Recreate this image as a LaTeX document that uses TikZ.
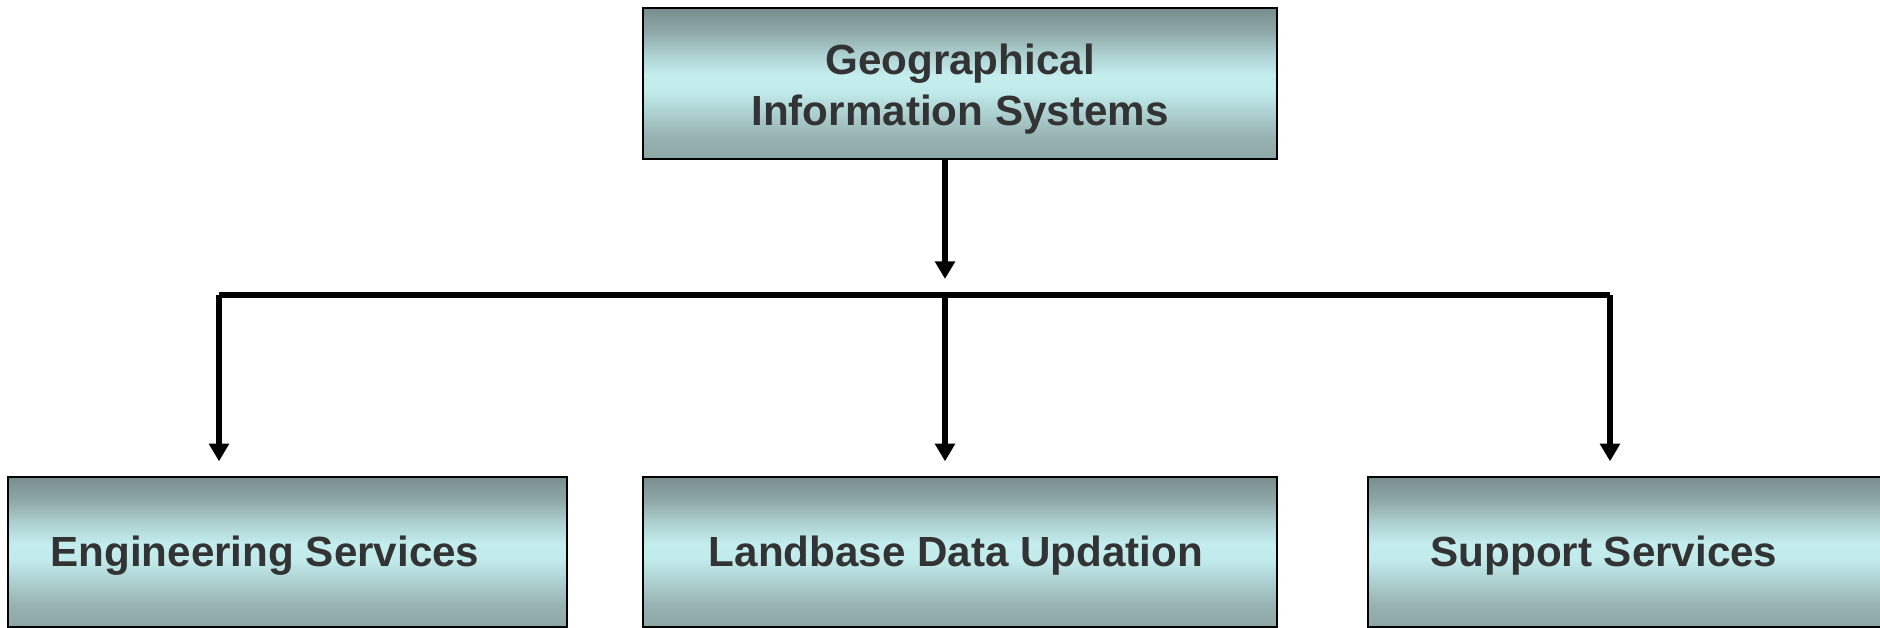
\documentclass[tikz,border=0pt]{standalone}
\usepackage{fontspec}
\setmainfont{Liberation Sans}
\usetikzlibrary{arrows.meta}
\definecolor{txtc}{RGB}{51,51,51}
\definecolor{sA}{RGB}{141,165,165}
\definecolor{sB}{RGB}{152,178,178}
\definecolor{sC}{RGB}{172,207,207}
\definecolor{sD}{RGB}{193,235,235}
\definecolor{sE}{RGB}{196,238,238}
\definecolor{sF}{RGB}{172,207,207}
\definecolor{sG}{RGB}{142,166,166}
\definecolor{sH}{RGB}{120,142,142}
\pgfdeclareverticalshading{boxshade}{100bp}{color(0bp)=(sA); color(25bp)=(sA); color(32.5bp)=(sB); color(40bp)=(sC); color(47.5bp)=(sD); color(52.5bp)=(sE); color(60bp)=(sF); color(67.5bp)=(sG); color(75bp)=(sH); color(100bp)=(sH)}
\tikzset{
  box/.style={draw=black, line width=0.8pt, shading=boxshade, rectangle, inner sep=0pt},
  lbl/.style={text=txtc, font=\bfseries\fontsize{24}{28.8}\selectfont, inner sep=0pt, align=center},
  conn/.style={line width=3.5pt, draw=black},
  tip/.style={-{Triangle[width=11pt,length=10pt]}},
  arr/.style={conn, tip, shorten >=0.3cm}
}
\begin{document}
\begin{tikzpicture}[x=0.02cm,y=-0.02cm]
\useasboundingbox (0,0) rectangle (1880,628);
\node[box, minimum width=634*0.02cm, minimum height=151*0.02cm] (gis) at (960,83.5) {};
\node[box, minimum width=559*0.02cm, minimum height=150*0.02cm] (eng) at (287.5,552) {};
\node[box, minimum width=634*0.02cm, minimum height=150*0.02cm] (land) at (960,552) {};
\node[box, minimum width=532*0.02cm, minimum height=150*0.02cm] (supp) at (1634,552) {};
\node[lbl] (gist) at (960,89) {Geographical\\Information Systems};
\node[lbl] (engt) at (265,556) {Engineering Services};
\node[lbl] (landt) at (956,556) {Landbase Data Updation};
\node[lbl] (suppt) at (1604,556) {Support Services};
\coordinate (jtop) at (945,279);
\coordinate (bl) at (219,295);
\coordinate (bm) at (945,295);
\coordinate (br) at (1610,295);
\draw[conn, tip] (gis.south -| jtop) -- (jtop);
\draw[conn] (bl) -- (br);
\draw[arr] (bl) -- (bl |- eng.north);
\draw[arr] (bm) -- (bm |- land.north);
\draw[arr] (br) -- (br |- supp.north);
\end{tikzpicture}
\end{document}
